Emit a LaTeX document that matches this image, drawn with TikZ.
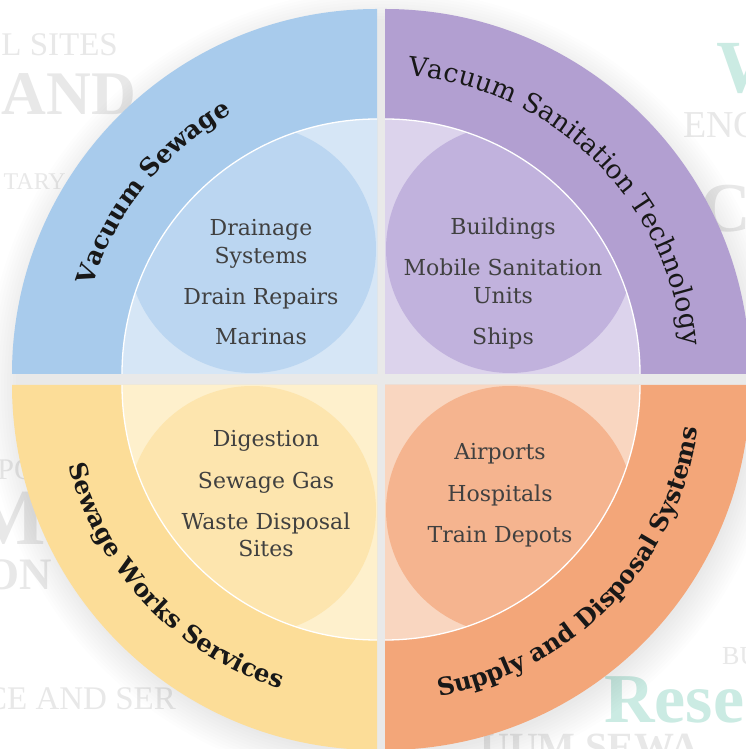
\documentclass[tikz,border=0pt]{standalone}
\usepackage{fontspec}
\setmainfont{DejaVu Serif}
\newfontfamily\wmfont{Liberation Serif}
\usetikzlibrary{decorations.text}
\definecolor{bring}{HTML}{A8CBEC}
\definecolor{binner}{HTML}{D6E6F6}
\definecolor{bcirc}{HTML}{BBD6F1}
\definecolor{pring}{HTML}{B29FD1}
\definecolor{pinner}{HTML}{DCD3EC}
\definecolor{pcirc}{HTML}{C1B2DD}
\definecolor{yring}{HTML}{FCDD98}
\definecolor{yinner}{HTML}{FEF0CC}
\definecolor{ycirc}{HTML}{FDE5AE}
\definecolor{oring}{HTML}{F3A679}
\definecolor{oinner}{HTML}{F9D6C0}
\definecolor{ocirc}{HTML}{F5B48F}
\definecolor{itext}{HTML}{404040}
\definecolor{rtext}{HTML}{181818}
\definecolor{wmgrey}{HTML}{E8E8E8}
\definecolor{wmteal}{HTML}{CBEBE3}
\begin{document}
\begin{tikzpicture}[x=1pt,y=1pt,
  wm/.style={text=wmgrey, font=\wmfont\fontsize{#1}{#1}\selectfont, inner sep=0pt, anchor=base east},
  wmb/.style={text=wmgrey, font=\wmfont\bfseries\fontsize{#1}{#1}\selectfont, inner sep=0pt, anchor=base east},
  wmt/.style={text=wmteal, font=\wmfont\bfseries\fontsize{#1}{#1}\selectfont, inner sep=0pt, anchor=base west},
  item/.style={text=itext, font=\fontsize{22}{22}\selectfont, inner sep=0pt, anchor=base},
  ringlabel/.style={decorate, decoration={text along path, text align=center, text color=rtext, text={#1}}},
]
\useasboundingbox (0,0) rectangle (746,749);
\clip (0,0) rectangle (746,749);
\fill[white] (0,0) rectangle (746,749);

% faded background lettering
\node[wm=33] (w1) at (118,693) {L SITES};
\node[wmb=62] (w2) at (136,634) {AND};
\node[wm=24] (w3) at (66,559) {TARY};
\node[wm=30] (w4) at (36,269) {PO};
\node[wmb=80] (w5) at (46,204) {M};
\node[wmb=45] (w6) at (52,159) {ON};
\node[wm=33] (w7) at (176,39) {CE AND SER};
\node[wmt=75] (w8) at (716,656) {W};
\node[wm=38, anchor=base west] (w9) at (683,611) {ENG};
\node[wmb=70, anchor=base west] (w10) at (700,517) {C};
\node[wm=26, anchor=base west] (w11) at (722,84) {BU};
\node[wmt=70] (w12) at (604,27) {Rese};
\node[wmb=40, anchor=base west] (w13) at (480,-11) {UUM SEWA};

% soft shadow
\foreach \r in {398,395,...,368}{
  \fill[black, opacity=0.009] (384,362) circle[radius=\r];
}

% quadrants
\coordinate (B) at (377,375);
\coordinate (P) at (385,375);
\coordinate (Y) at (377,364);
\coordinate (O) at (385,364);
\foreach \k/\a/\rc/\ic/\cc in {B/90/bring/binner/bcirc, P/0/pring/pinner/pcirc, Y/180/yring/yinner/ycirc, O/270/oring/oinner/ocirc}{
  \fill[fill=\rc] (\k) -- ([shift={(\a:365)}]\k) arc[start angle=\a, delta angle=90, radius=365] -- cycle;
  \begin{scope}
    \clip (\k) -- ([shift={(\a:255)}]\k) arc[start angle=\a, delta angle=90, radius=255] -- cycle;
    \fill[fill=\ic] (\k) -- ([shift={(\a:255)}]\k) arc[start angle=\a, delta angle=90, radius=255] -- cycle;
    \fill[fill=\cc] ([shift={(\a+45:176.8)}]\k) circle[radius=124];
  \end{scope}
  \draw[white, line width=1.3pt] ([shift={(\a:255)}]\k) arc[start angle=\a, delta angle=90, radius=255];
}

% ring labels
\path[ringlabel={|\fontsize{25}{25}\selectfont\bfseries|Vacuum Sewage}]
  ([shift={(182:298)}]B) arc[start angle=182, end angle=100, radius=298];
\path[ringlabel={|\fontsize{26.5}{26.5}\selectfont|Vacuum Sanitation Technology}]
  ([shift={(101:299)}]P) arc[start angle=101, end angle=-10, radius=299];
\path[ringlabel={|\fontsize{24.5}{24.5}\selectfont\bfseries|Sewage Works Services}]
  ([shift={(173:319)}]Y) arc[start angle=173, end angle=274, radius=319];
\path[ringlabel={|\fontsize{24.5}{24.5}\selectfont\bfseries|Supply and Disposal Systems}]
  ([shift={(260:316)}]O) arc[start angle=260, end angle=372, radius=316];

% inner items
\node[item] (b1) at (261,513) {Drainage};
\node[item] (b2) at (261,485) {Systems};
\node[item] (b3) at (261,444) {Drain Repairs};
\node[item] (b4) at (261,404) {Marinas};
\node[item] (p1) at (503,514) {Buildings};
\node[item] (p2) at (503,473) {Mobile Sanitation};
\node[item] (p3) at (503,445) {Units};
\node[item] (p4) at (503,404) {Ships};
\node[item] (y1) at (266,302) {Digestion};
\node[item] (y2) at (266,260) {Sewage Gas};
\node[item] (y3) at (266,219) {Waste Disposal};
\node[item] (y4) at (266,192) {Sites};
\node[item] (o1) at (500,289) {Airports};
\node[item] (o2) at (500,247) {Hospitals};
\node[item] (o3) at (500,206) {Train Depots};
\end{tikzpicture}
\end{document}
